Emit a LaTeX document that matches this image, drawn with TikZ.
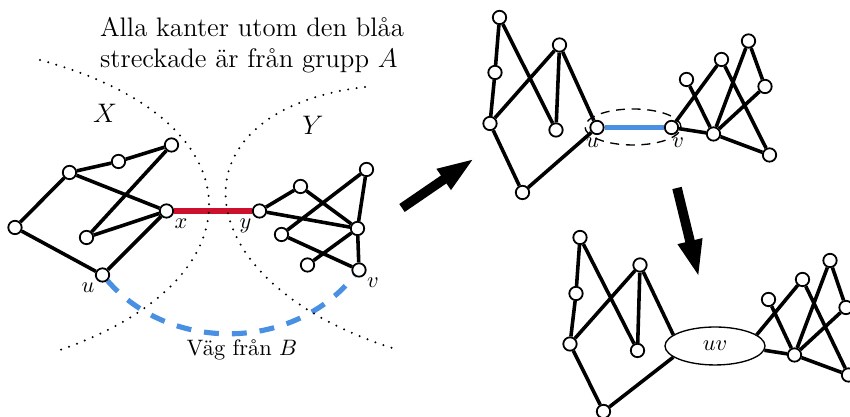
\documentclass[tikz,border=0pt]{standalone}
\usetikzlibrary{arrows.meta,shapes.geometric,positioning,backgrounds}
\definecolor{kantrod}{RGB}{204,16,46}
\definecolor{vagbla}{RGB}{74,144,226}
\tikzset{
  vertex/.style={circle, draw, fill=white, line width=0.8pt, inner sep=0pt, minimum size=6pt},
  edge/.style={line width=1.6pt},
  lbl/.style={inner sep=1pt},
  prickad/.style={line width=1pt, line cap=round, dash pattern=on 0pt off 3.8pt},
  pil/.style={line width=4.3pt, -{Triangle[length=17pt,width=10pt]}}
}
\begin{document}
\begin{tikzpicture}[scale=0.787]
    \useasboundingbox (0,0) rectangle (17,8.34);
    % omraden X och Y
    \draw[prickad] (0.80,7.14) .. controls (5.24,5.94) and (5.24,2.74) .. (1.20,1.34);
    \draw[prickad] (7.30,6.60) .. controls (3.40,6.14) and (3.60,2.74) .. (7.84,1.38);
    \node[align=left, font=\large] (rubrik) at (5.04,7.44) {Alla kanter utom den blåa\\streckade är från grupp $A$};
    \node[font=\large] (X) at (2.10,6.08) {$X$};
    \node[font=\large] (Y) at (6.26,5.84) {$Y$};

    % vanstra grafen
    \node[vertex] (a1) at (0.30,3.79) {};
    \node[vertex] (a2) at (1.39,4.89) {};
    \node[vertex] (a3) at (2.37,5.11) {};
    \node[vertex] (a4) at (3.43,5.44) {};
    \node[vertex] (a5) at (1.73,3.59) {};
    \node[vertex] (x) at (3.33,4.12) {};
    \node[vertex] (u) at (2.05,2.84) {};
    \node[vertex] (y) at (5.19,4.12) {};
    \node[vertex] (b1) at (6.01,4.61) {};
    \node[vertex] (b2) at (7.33,4.95) {};
    \node[vertex] (b3) at (7.15,3.77) {};
    \node[vertex] (b4) at (5.63,3.65) {};
    \node[vertex] (b5) at (6.15,3.04) {};
    \node[vertex] (v) at (7.18,2.94) {};
    \node[lbl, below right=0pt of x] (xlab) {$x$};
    \node[lbl, below left=0pt of y] (ylab) {$y$};
    \node[lbl, below left=0pt of u] (ulab) {$u$};
    \node[lbl, below right=0pt of v] (vlab) {$v$};
    \node (vag) at (4.84,1.34) {Väg från $B$};
    \begin{scope}[on background layer]
    \draw[edge] (a1) -- (a2) -- (a3) -- (a4) -- (a5) -- (x) -- (u) -- (a1);
    \draw[edge] (a2) -- (x);
    \draw[edge] (y) -- (b1) -- (b3) -- (v) -- (b4) -- (b2) -- (b3) -- (y);
    \draw[edge] (b5) -- (b3);
    \draw[line width=2.5pt, kantrod] (x) -- (y);
    \draw[line width=2.3pt, vagbla, dash pattern=on 6.7pt off 5.8pt] (u) to[bend right=50] (v);
    \end{scope}

    % pilar
    \coordinate (p1s) at (8.04,4.18);
    \coordinate (p1e) at (9.50,5.18);
    \coordinate (p2s) at (13.54,4.58);
    \coordinate (p2e) at (13.98,2.78);
    \draw[pil] (p1s) -- (p1e);
    \draw[pil] (p2s) -- (p2e);

    % ovre hogra grafen
    \node[vertex] (c1) at (9.99,7.99) {};
    \node[vertex] (c2) at (9.90,6.89) {};
    \node[vertex] (c3) at (9.80,5.87) {};
    \node[vertex] (c4) at (11.19,7.44) {};
    \node[vertex] (c5) at (11.12,5.74) {};
    \node[vertex] (c6) at (10.45,4.49) {};
    \node[vertex] (cu) at (11.94,5.79) {};
    \node[vertex] (cv) at (13.43,5.79) {};
    \node[vertex] (d1) at (13.73,6.75) {};
    \node[vertex] (d2) at (14.43,7.15) {};
    \node[vertex] (d3) at (14.97,7.52) {};
    \node[vertex] (d4) at (15.30,6.61) {};
    \node[vertex] (d5) at (14.27,5.66) {};
    \node[vertex] (d6) at (15.39,5.24) {};
    \node[lbl, below=0pt of cu, xshift=-2pt] (culab) {$u$};
    \node[lbl, below=0pt of cv, xshift=3pt] (cvlab) {$v$};
    \begin{scope}[on background layer]
    \draw[line width=0.6pt, dash pattern=on 4pt off 3pt] (12.66,5.80) ellipse (0.96 and 0.36);
    \draw[edge] (c1) -- (c2) -- (c3) -- (c4) -- (c5) -- (c1);
    \draw[edge] (c4) -- (cu) -- (c6) -- (c3);
    \draw[edge] (cv) -- (d2) -- (d6) -- (d5) -- (d3) -- (d4) -- (d5) -- (d1);
    \draw[edge] (cv) -- (d5);
    \draw[line width=2.3pt, vagbla] (cu) -- (cv);
    \end{scope}

    % nedre hogra grafen
    \node[vertex] (e1) at (11.60,3.59) {};
    \node[vertex] (e2) at (11.52,2.47) {};
    \node[vertex] (e3) at (11.40,1.46) {};
    \node[vertex] (e4) at (12.80,3.04) {};
    \node[vertex] (e5) at (12.75,1.33) {};
    \node[vertex] (e6) at (12.07,0.11) {};
    \node[ellipse, draw, fill=white, line width=0.6pt, inner sep=0pt, minimum width=44.8pt, minimum height=17pt] (uv) at (14.30,1.42) {$uv$};
    \node[vertex] (f1) at (15.37,2.35) {};
    \node[vertex] (f2) at (16.05,2.75) {};
    \node[vertex] (f3) at (16.60,3.13) {};
    \node[vertex] (f4) at (16.92,2.19) {};
    \node[vertex] (f5) at (15.89,1.24) {};
    \node[vertex] (f6) at (16.97,0.84) {};
    \begin{scope}[on background layer]
    \draw[edge] (e1) -- (e2) -- (e3) -- (e4) -- (e5) -- (e1);
    \draw[edge] (e4) -- (uv.165);
    \draw[edge] (e3) -- (e6) -- (uv.195);
    \draw[edge] (uv.15) -- (f2) -- (f6) -- (f5) -- (f3) -- (f4) -- (f5) -- (f1);
    \draw[edge] (uv.-5) -- (f5);
    \end{scope}
\end{tikzpicture}
\end{document}
